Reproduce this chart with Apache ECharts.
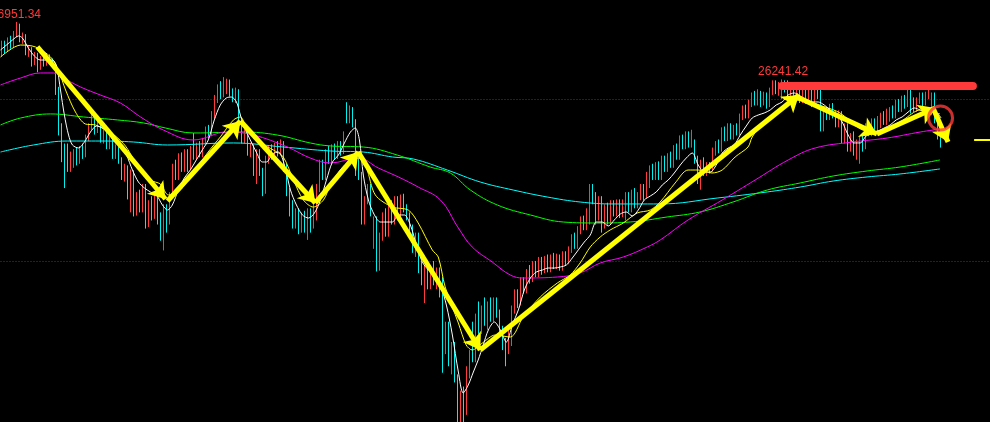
<!DOCTYPE html>
<html><head><meta charset="utf-8">
<script src="https://cdn.jsdelivr.net/npm/echarts@6/dist/echarts.min.js"></script>
<style>html,body{margin:0;padding:0;background:#000;}#c{width:990px;height:422px;}</style>
</head><body><div id="c"></div>
<script>
// ---- candle data (price) ----
const opens = [
26560,26680,26600,26720,26650,26800,26900,26740,26780,26580,
26620,26450,26550,26380,26500,26440,26520,26470,26420,26100,
25600,25400,25400,25150,25200,25350,25230,25380,25300,25520,
25650,25780,25620,25720,25500,25580,25420,25500,25300,25400,
25250,25050,25150,24650,25100,24600,24800,24650,24900,24450,
24700,24550,24800,24500,24300,24650,24500,24800,25150,25050,
25300,25150,25350,25150,25550,25300,25430,25320,25480,25620,
25560,25800,26000,26150,26050,26100,26220,26080,26000,26100,
25650,25500,25600,25350,25420,25100,25350,25100,24850,25250,
25380,25300,25420,25330,25450,25150,24850,24700,24450,24600,
24400,24550,24400,24600,24450,24650,24900,25200,25050,25350,
25250,25400,25300,25450,25350,25900,25750,25880,25700,25200,
25050,24500,24750,24900,24200,24500,23900,24300,24550,24350,
24650,24500,24750,24550,24780,24650,24550,24400,24150,24300,
23900,23600,23900,23700,23900,23750,23880,23750,22900,23200,
22750,22950,22550,22100,22350,22150,22650,23200,22800,23300,
23150,23400,23250,23450,23300,23500,23350,23150,22950,22900,
23000,23400,23600,23480,23750,23650,23850,23780,23950,23850,
24000,23880,24020,23900,24050,23950,24050,23930,24080,24000,
24150,24300,24200,24400,24500,24420,24500,24900,24800,24550,
24750,24450,24650,24500,24700,24600,24720,24580,24550,24800,
24650,24850,24700,24800,24900,24800,24950,25150,25050,25180,
25050,25250,25150,25300,25200,25400,25300,25500,25420,25550,
25450,25450,25250,25050,25200,25100,25180,25120,25350,25450,
25380,25600,25520,25650,25550,25650,25580,25780,25880,25800,
25950,26050,25960,26080,25950,26050,25930,26100,26200,26100,
26050,26200,26200,26050,26150,26050,26120,26000,26100,25980,
26100,25950,26150,26130,25650,25850,25780,25900,25800,25700,
25820,25500,25650,25400,25550,25350,25300,25500,25400,25650,
25580,25720,25640,25680,25800,25720,25760,25870,25800,25950,
25880,26000,25950,26100,25980,25880,25980,26050,25950,26050,
25850,26050,25750,25650];
const closes = [
26680,26600,26720,26650,26800,26900,26740,26780,26580,26620,
26450,26550,26380,26500,26440,26520,26470,26420,26100,25600,
25300,24980,25150,25300,25350,25230,25380,25300,25520,25650,
25780,25620,25720,25500,25580,25420,25500,25300,25400,25250,
25050,25150,24800,25100,24600,24800,24650,24900,24450,24700,
24550,24800,24500,24300,24650,24450,24800,25150,25050,25300,
25150,25350,25150,25380,25300,25430,25320,25480,25620,25560,
25800,26000,26150,26050,26250,26220,26080,26000,26100,25650,
25500,25600,25350,25420,25100,25350,25100,24850,25250,25380,
25300,25420,25330,25450,25150,24850,24600,24450,24600,24400,
24550,24400,24600,24450,24650,24900,25200,25050,25350,25250,
25400,25300,25450,25350,25560,25750,25880,25700,25200,25050,
24500,24750,24900,24600,24500,23900,24300,24550,24350,24650,
24500,24750,24550,24780,24650,24550,24400,24150,24300,23900,
23750,23900,23700,23900,23750,23880,23600,22700,23200,22750,
22950,22550,22100,22350,22100,22650,22850,22800,23300,23150,
23400,23250,23450,23300,23500,23350,23150,22950,22800,23150,
23400,23600,23480,23750,23650,23850,23780,23950,23850,24000,
23880,24020,23900,24050,23950,24050,23930,24080,24000,24150,
24300,24200,24400,24500,24420,24600,24900,24750,24550,24750,
24450,24650,24500,24700,24600,24720,24580,24720,24800,24650,
24850,24700,24800,24900,24800,25050,25150,25050,25180,25050,
25250,25150,25300,25200,25400,25300,25500,25420,25550,25450,
25600,25250,25050,25200,25100,25180,25120,25350,25450,25380,
25600,25520,25650,25550,25650,25580,25780,25880,25800,25950,
26050,25960,26080,25950,26050,25930,26100,26200,26100,26180,
26200,26120,26050,26150,26050,26120,26000,26100,25980,26100,
25950,26150,26060,25650,25850,25780,25900,25800,25700,25820,
25500,25650,25400,25550,25350,25450,25500,25400,25650,25580,
25720,25640,25750,25800,25720,25850,25870,25800,25950,25880,
26000,25920,26120,25850,25880,25980,26050,25950,26050,26100,
26050,25750,25550,25450];
const lows = [
26520,26560,26580,26620,26630,26760,26700,26680,26540,26520,
26400,26420,26330,26360,26400,26410,26430,26380,26050,25550,
25220,24900,25100,25100,25150,25180,25200,25260,25280,25480,
25620,25560,25580,25460,25450,25380,25380,25260,25260,25200,
25000,24980,24760,24600,24550,24560,24600,24600,24400,24420,
24500,24520,24450,24250,24130,24350,24450,24780,25000,25000,
25100,25100,25100,25130,25250,25250,25280,25280,25450,25520,
25540,25760,25950,26000,26020,26060,26030,25960,25950,25600,
25450,25450,25300,25280,25050,24950,25050,24800,24830,25200,
25250,25280,25290,25300,25100,24800,24550,24400,24400,24330,
24350,24350,24260,24350,24400,24500,24850,25000,25000,25200,
25200,25250,25260,25300,25320,25700,25700,25650,25050,25000,
24450,24450,24700,24550,24150,23870,23880,24250,24300,24300,
24450,24450,24500,24500,24600,24500,24350,24100,24050,23850,
23700,23480,23650,23650,23700,23650,23550,22620,22850,22700,
22600,22500,22000,21900,21950,22100,22550,22750,22750,23100,
23100,23200,23150,23250,23250,23300,23100,22900,22700,22850,
22950,23350,23420,23450,23600,23600,23720,23740,23800,23800,
23830,23850,23860,23860,23900,23900,23880,23880,23950,23960,
24100,24150,24150,24330,24380,24380,24450,24700,24450,24500,
24350,24400,24450,24450,24550,24550,24530,24540,24500,24600,
24600,24650,24650,24750,24750,24780,24900,25000,25000,25000,
25000,25100,25100,25150,25150,25250,25250,25380,25380,25400,
25400,25200,24950,24880,25050,25050,25080,25100,25300,25330,
25350,25480,25480,25500,25500,25550,25550,25740,25760,25760,
25900,25920,25920,25900,25920,25880,25900,26050,26060,26040,
26000,26080,26000,26000,26000,25980,25950,25950,25940,25950,
25900,25920,26000,25600,25600,25740,25740,25760,25650,25650,
25450,25450,25350,25350,25300,25250,25200,25350,25380,25540,
25540,25600,25600,25640,25680,25680,25720,25760,25760,25840,
25840,25880,25900,25820,25840,25840,25940,25900,25920,26000,
25800,25700,25500,25400];
const highs = [
26720,26720,26760,26780,26840,26951.34,26930,26820,26800,26660,
26640,26580,26570,26530,26540,26560,26550,26500,26440,26150,
25700,25450,25450,25350,25380,25400,25420,25450,25560,25700,
25820,25830,25760,25740,25620,25600,25540,25520,25440,25430,
25280,25200,25180,25130,25120,24850,24880,24950,24950,24750,
24800,24850,24850,24600,24700,24700,24850,25200,25250,25330,
25340,25380,25380,25420,25580,25460,25480,25520,25660,25680,
25850,26050,26180,26220,26270,26250,26240,26130,26140,26120,
25700,25640,25620,25460,25440,25380,25380,25150,25300,25420,
25440,25460,25480,25500,25480,25200,24900,24750,24650,24650,
24600,24620,24650,24650,24700,24950,25250,25250,25380,25420,
25440,25450,25480,25480,25600,25960,25920,25900,25750,25350,
25100,24800,24950,24950,24550,24550,24350,24600,24650,24700,
24750,24800,24800,24820,24830,24700,24600,24450,24350,24350,
24000,23950,23950,23950,24000,23920,23920,23800,23250,23250,
23000,23000,22600,22400,22450,22700,22900,23250,23350,23500,
23450,23550,23500,23550,23550,23550,23400,23200,23050,23200,
23450,23650,23650,23800,23800,23900,23950,24000,24000,24050,
24050,24060,24080,24080,24100,24090,24080,24120,24120,24180,
24330,24350,24430,24550,24560,24650,24950,24950,24850,24800,
24800,24700,24720,24750,24750,24760,24760,24760,24850,24850,
24880,24900,24850,24950,24950,25100,25180,25200,25220,25230,
25300,25300,25330,25350,25430,25450,25550,25560,25600,25600,
25620,25500,25300,25250,25280,25220,25220,25400,25480,25500,
25650,25660,25700,25700,25680,25700,25820,25920,25930,25990,
26080,26100,26120,26100,26090,26080,26140,26230,26230,26210,
26241.42,26230,26230,26180,26190,26160,26150,26140,26130,26140,
26150,26180,26200,26150,25900,25900,25940,25950,25850,25860,
25850,25700,25700,25580,25600,25500,25540,25560,25700,25720,
25760,25760,25790,25830,25850,25880,25900,25920,25990,26000,
26040,26050,26160,26120,26020,26020,26080,26080,26090,26150,
26080,26080,25800,25700];

// ---- moving-average lines: [candle index, price] ----
const maWhite = [[-0.5,26605],[1.5,26666],[3.5,26728],[5.5,26778],[6.8,26753],[8.8,26629],[10.8,26531],[12.8,26481],[14.8,26481],[16.8,26481],[18.2,26407],[19.5,26111],[20.8,25802],[22.2,25555],[23.5,25432],[25.5,25395],[27.5,25469],[29.5,25592],[31.5,25666],[33.5,25642],[35.5,25580],[37.5,25469],[39.5,25407],[41.5,25308],[43.5,25123],[45.5,24975],[47.5,24901],[49.5,24852],[51.5,24815],[53.5,24691],[55.2,24629],[56.8,24691],[58.8,24876],[60.8,25024],[62.8,25123],[64.8,25247],[66.8,25370],[68.8,25494],[70.8,25741],[72.8,25926],[74.8,26012],[76.5,26024],[78.2,25963],[79.5,25802],[80.8,25654],[82.8,25494],[84.8,25345],[86.8,25222],[88.2,25222],[90.2,25321],[92.2,25345],[94.2,25185],[96.2,24876],[98.2,24691],[100.2,24568],[102.2,24530],[104.2,24592],[106.2,24753],[108.2,25000],[110.2,25222],[112.2,25308],[114.2,25457],[116.2,25592],[117.8,25642],[119.2,25494],[120.5,25061],[122.2,24753],[124.2,24568],[126.2,24481],[128.2,24481],[130.2,24481],[132.2,24568],[134.2,24568],[136.2,24444],[138.2,24197],[140.2,23987],[142.2,23888],[144.2,23827],[146.2,23703],[148.2,23456],[150.2,23086],[152.2,22629],[153.8,22370],[155.5,22469],[157.2,22629],[158.8,22777],[160.5,22963],[162.2,23148],[164.2,23247],[166.2,23148],[168.2,22999],[170.2,23210],[172.2,23395],[174.2,23642],[176.2,23790],[178.2,23864],[180.2,23888],[182.2,23913],[184.2,23913],[186.2,23926],[188.2,23950],[190.2,24037],[192.2,24136],[194.2,24234],[196.2,24321],[198.2,24481],[200.2,24481],[202.2,24432],[204.2,24506],[206.2,24580],[208.2,24605],[210.2,24555],[212.2,24629],[214.2,24753],[216.2,24802],[218.2,24852],[220.2,24938],[222.2,25000],[224.2,25086],[226.2,25185],[228.2,25271],[230.2,25333],[232.2,25185],[234.2,25099],[236.2,25099],[238.2,25185],[240.2,25333],[242.2,25395],[244.2,25432],[246.2,25555],[248.2,25666],[250.2,25765],[252.2,25802],[254.2,25827],[256.2,25864],[258.2,25926],[260.2,25963],[262.2,26049],[264.2,26074],[266.2,26037],[268.2,25987],[270.2,25963],[272.2,25963],[274.2,25926],[276.2,25864],[278.2,25802],[280.2,25716],[282.2,25555],[284.2,25457],[286.2,25457],[288.2,25543],[290.2,25580],[292.2,25605],[294.2,25642],[296.2,25679],[298.2,25741],[300.2,25778],[302.2,25839],[304.2,25889],[306.2,25864],[308.2,25839],[310.2,25852],[311.8,25827],[313.2,25765]];
const maYellow = [[-0.5,26518],[6.2,26666],[11.2,26642],[16.2,26518],[18.8,26358],[21.2,26111],[24.5,25839],[27.8,25691],[31.2,25679],[34.5,25617],[37.8,25543],[41.2,25419],[44.5,25222],[49.5,25000],[52.8,24950],[55.5,24815],[58.5,24839],[62.8,25037],[68.5,25333],[72.8,25531],[77.2,25741],[79.5,25778],[81.8,25617],[86.2,25457],[90.5,25370],[93.8,25284],[97.2,25000],[100.5,24753],[103.8,24666],[107.2,24753],[109.5,24938],[112.8,25123],[116.2,25247],[118.8,25271],[121.5,25148],[124.5,24815],[130.2,24666],[135.5,24629],[138.8,24469],[143.5,24136],[145.5,24049],[147.8,23679],[152.2,23234],[154.8,22963],[156.8,22901],[160.2,22987],[164.5,23086],[169.5,23061],[173.8,23308],[179.5,23555],[185.2,23728],[189.5,23827],[192.8,23975],[196.2,24173],[199.5,24296],[202.8,24382],[207.2,24469],[211.8,24592],[216.2,24629],[219.5,24728],[224.5,24963],[228.8,25123],[232.2,25123],[236.8,25086],[240.2,25123],[244.5,25284],[248.8,25407],[250.2,25531],[254.5,25741],[260.2,25864],[264.5,25987],[268.8,25963],[274.5,25901],[279.5,25827],[285.2,25654],[289.5,25592],[295.2,25642],[300.5,25741],[306.2,25864],[310.5,25839],[312.8,25815]];
const maMagenta = [[-0.5,26173],[6.2,26259],[12.8,26321],[17.2,26321],[20.5,26259],[26.2,26148],[32.8,26049],[39.5,25950],[46.2,25778],[53.8,25617],[63.8,25494],[75.2,25592],[83.8,25555],[95.2,25407],[102.8,25271],[109.5,25210],[118.8,25271],[125.5,25148],[132.2,25037],[138.8,24913],[146.2,24753],[152.2,24407],[156.8,24173],[163.5,23987],[169.5,23827],[173.8,23790],[185.2,23802],[192.8,23852],[199.5,23975],[207.2,24049],[215.2,24173],[219.5,24259],[228.8,24506],[240.2,24753],[251.2,25000],[262.2,25247],[271.2,25395],[283.8,25469],[295.2,25518],[306.2,25592],[312.8,25629]];
const maGreen = [[-0.5,25679],[6.2,25765],[16.2,25815],[27.2,25778],[38.5,25741],[47.2,25704],[54.5,25642],[63.8,25580],[80.5,25592],[91.8,25555],[102.8,25457],[109.5,25420],[120.5,25407],[131.8,25308],[142.8,25160],[149.5,25086],[156.2,24876],[165.2,24691],[176.2,24568],[187.2,24481],[198.5,24469],[209.5,24481],[221.8,24543],[232.8,24605],[243.8,24728],[255.2,24876],[266.2,24963],[277.2,25049],[288.5,25111],[299.5,25160],[312.8,25247]];
const maCyan = [[-0.5,25345],[10.5,25432],[21.8,25481],[32.8,25481],[43.8,25469],[55.2,25432],[77.2,25457],[93.8,25407],[109.5,25358],[120.5,25345],[130.2,25284],[137.2,25259],[148.5,25123],[159.5,24975],[170.5,24876],[181.8,24790],[192.8,24728],[203.8,24704],[219.5,24704],[238.5,24777],[255.2,24852],[266.2,24913],[277.2,24987],[288.5,25037],[299.5,25074],[312.8,25136]];

// ---- annotations (data coordinates: [candle index, price]) ----
const trendArrows = [
  [[11.8,26642],[54.5,24765]],
  [[55.2,24740],[79.5,25728]],
  [[79.5,25728],[104.5,24716]],
  [[104.5,24716],[118.8,25345]],
  [[118.8,25345],[159.5,22901]],
  [[159.5,22901],[265.8,26049]],
  [[265.2,26024],[291.8,25568]],
  [[291.8,25568],[311.2,25889]],
  [[310.5,25889],[315.5,25469]]
];
const resistanceLine = [[260.2,26160],[323.8,26160]];
const circleMark = [[313,25765]];
const lastPriceLine = [[324.2,25494],[329.5,25494]];
const gridLevels = [26000, 24000];
const peakIdx = [5, 260];

const slotCount = 330;
const categories = Array.from({length: slotCount}, (_, i) => String(i));
const candleData = opens.map((o, i) => [o, closes[i], lows[i], highs[i]]);

const chart = echarts.init(document.getElementById('c'), null, {renderer: 'canvas'});
const lineS = (data, color, smooth) => ({
  type: 'line', xAxisIndex: 1, yAxisIndex: 0, data, symbol: 'none', showSymbol: false,
  smooth, z: 3, silent: true, lineStyle: {color, width: 1}
});
const labelFont = {color: '#ff3a3a', fontSize: 12, fontFamily: '"Liberation Sans",Arial,sans-serif'};
chart.setOption({
  backgroundColor: '#000000',
  animation: false,
  grid: {left: 0.5, right: -0.5, top: 0, bottom: 0},
  xAxis: [
    {type: 'category', data: categories, boundaryGap: true, show: false},
    {type: 'value', min: -0.5, max: slotCount - 0.5, show: false}
  ],
  yAxis: {type: 'value', min: 22012, max: 27222, show: false, splitLine: {show: false}},
  series: [
    {type: 'lines', coordinateSystem: 'cartesian2d', xAxisIndex: 1, yAxisIndex: 0, z: 1, silent: true,
     lineStyle: {color: '#a01e1e', width: 1, type: [1, 2], opacity: 1},
     data: gridLevels.map(v => ({coords: [[-0.5, v], [slotCount - 0.5, v]]}))},
    {type: 'candlestick', xAxisIndex: 0, yAxisIndex: 0, data: candleData, barWidth: 1, z: 2,
     itemStyle: {color: '#ff3c3c', color0: '#00f0f0', borderColor: '#ff3c3c', borderColor0: '#00f0f0', borderWidth: 1},
     markPoint: {
       symbol: 'circle', symbolSize: 1, itemStyle: {color: 'rgba(0,0,0,0)'},
       data: [
         {coord: [peakIdx[0], highs[peakIdx[0]]], label: Object.assign({show: true, formatter: highs[peakIdx[0]].toFixed(2), position: 'inside', align: 'right', verticalAlign: 'middle', offset: [24, -7]}, labelFont)},
         {coord: [peakIdx[1], highs[peakIdx[1]]], label: Object.assign({show: true, formatter: highs[peakIdx[1]].toFixed(2), position: 'inside', align: 'center', verticalAlign: 'middle', offset: [1.5, -8]}, labelFont)}
       ]
     }},
    lineS(maCyan, '#00ffff', 0.4),
    lineS(maGreen, '#00ff00', 0.4),
    lineS(maMagenta, '#ff00ff', 0.4),
    lineS(maYellow, '#ffff00', 0.3),
    lineS(maWhite, '#ffffff', 0.3),
    {type: 'lines', coordinateSystem: 'cartesian2d', xAxisIndex: 1, yAxisIndex: 0, z: 10, silent: true,
     symbol: ['none', 'arrow'], symbolSize: [1, 16],
     lineStyle: {color: '#ffff00', width: 5, opacity: 1},
     data: trendArrows.map(s => ({coords: s}))},
    {type: 'lines', coordinateSystem: 'cartesian2d', xAxisIndex: 1, yAxisIndex: 0, z: 10, silent: true,
     lineStyle: {color: '#ff3a3a', width: 8, opacity: 1, cap: 'round'},
     data: [{coords: resistanceLine}]},
    {type: 'lines', coordinateSystem: 'cartesian2d', xAxisIndex: 1, yAxisIndex: 0, z: 10, silent: true,
     lineStyle: {color: '#ffff00', width: 2, opacity: 1},
     data: [{coords: lastPriceLine}]},
    {type: 'scatter', xAxisIndex: 1, yAxisIndex: 0, z: 11, silent: true, symbol: 'circle', symbolSize: 24,
     itemStyle: {color: 'rgba(0,0,0,0)', borderColor: '#ff3a3a', borderWidth: 3},
     data: circleMark}
  ]
});
</script>
</body></html>
